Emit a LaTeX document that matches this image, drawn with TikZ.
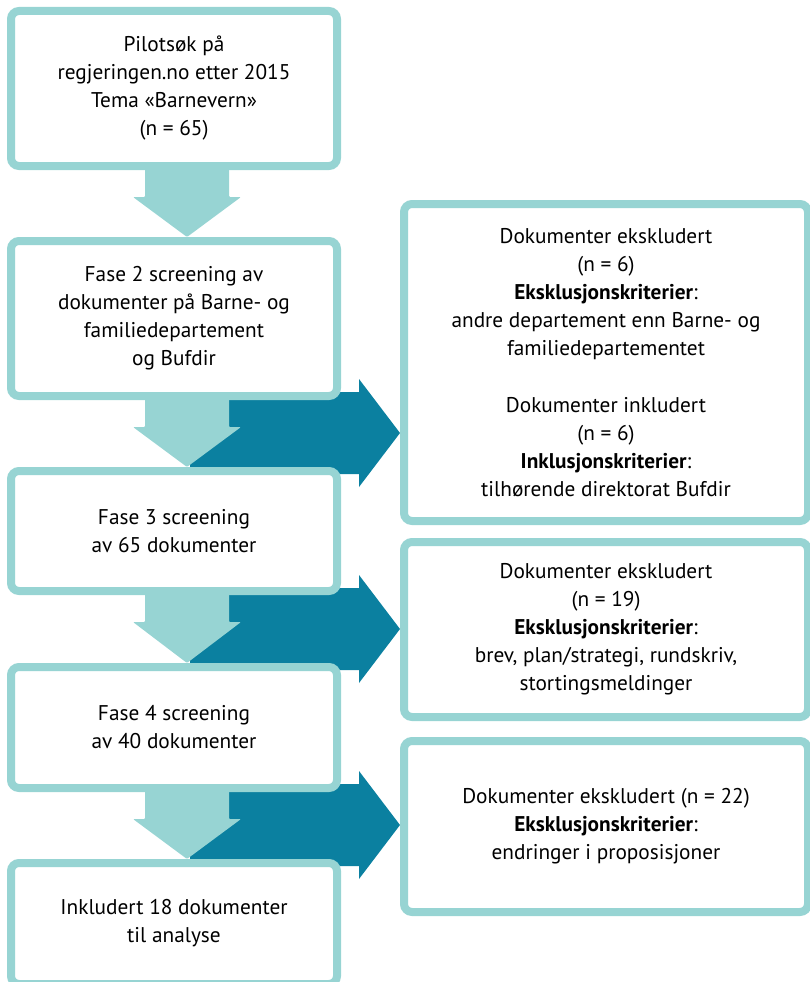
\documentclass[tikz,border=0pt]{standalone}
\usepackage{fontspec}
\setmainfont{PT Sans}
\usetikzlibrary{calc}
\definecolor{lightteal}{RGB}{151,212,211}
\definecolor{darkteal}{RGB}{11,128,160}
\begin{document}
\begin{tikzpicture}[x=1pt,y=-1pt,
  box/.style={draw=lightteal, line width=8pt, fill=white, rounded corners=8pt,
    inner sep=0pt, align=center, font=\fontsize{21.3}{28}\selectfont},
  lbox/.style={box, minimum width=326pt},
  rbox/.style={box, minimum width=404pt},
  lightarrow/.style={fill=lightteal, rounded corners=1pt},
  darkarrow/.style={fill=darkteal}
]
\useasboundingbox (0,0) rectangle (810,982);

% dark arrows (behind everything)
\coordinate (d1) at (190,433);
\coordinate (d2) at (190,629);
\coordinate (d3) at (190,825);

% box outlines placed first so that arrows can refer to them
\path
  node[lbox, minimum height=155pt, draw=none, fill=none] (L1) at (174,88.5) {}
  node[lbox, minimum height=155pt, draw=none, fill=none] (L2) at (174,318.5) {}
  node[lbox, minimum height=120pt, draw=none, fill=none] (L3) at (174,531) {}
  node[lbox, minimum height=121pt, draw=none, fill=none] (L4) at (174,727.5) {}
  node[lbox, minimum height=121pt, draw=none, fill=none] (L5) at (174,923.5) {}
  node[rbox, minimum height=317pt, draw=none, fill=none] (R1) at (606,362.5) {}
  node[rbox, minimum height=175pt, draw=none, fill=none] (R2) at (606,629.5) {}
  node[rbox, minimum height=171pt, draw=none, fill=none] (R3) at (606,826.5) {};

\foreach \d/\r in {d1/R1, d2/R2, d3/R3}{
  \coordinate (t) at (\r.west |- \d);
  \fill[darkarrow] ($(\d)+(0,-41)$) -- ($(t)+(-41,-41)$) -- ($(t)+(-41,-54)$)
    -- (t) -- ($(t)+(-41,54)$) -- ($(t)+(-41,41)$) -- ($(\d)+(0,41)$) -- cycle;
}

% light arrows
\foreach \a/\b in {L1/L2, L2/L3, L3/L4, L4/L5}{
  \coordinate (s) at ($(\a.south)+(13,0)$);
  \coordinate (e) at (s |- \b.north);
  \fill[lightarrow] ($(s)+(-42,-2)$) -- ($(s)+(42,-2)$) -- ($(s)+(42,27)$)
    -- ($(s)+(54,27)$) -- (e) -- ($(s)+(-54,27)$) -- ($(s)+(-42,27)$) -- cycle;
}

% boxes
\node[lbox, minimum height=155pt] (L1) at (174,88.5)
  {Pilotsøk på\\regjeringen.no etter 2015\\Tema «Barnevern»\\(n = 65)};
\node[lbox, minimum height=155pt] (L2) at (174,318.5)
  {Fase 2 screening av\\dokumenter på Barne- og\\familiedepartement\\og Bufdir};
\node[lbox, minimum height=120pt] (L3) at (174,531)
  {Fase 3 screening\\av 65 dokumenter};
\node[lbox, minimum height=121pt] (L4) at (174,727.5)
  {Fase 4 screening\\av 40 dokumenter};
\node[lbox, minimum height=121pt] (L5) at (174,923.5)
  {Inkludert 18 dokumenter\\til analyse};
\node[rbox, minimum height=317pt] (R1) at (606,362.5)
  {Dokumenter ekskludert\\(n = 6)\\\textbf{Eksklusjonskriterier}:\\andre departement enn Barne- og\\familiedepartementet\\[29pt]Dokumenter inkludert\\(n = 6)\\\textbf{Inklusjonskriterier}:\\tilhørende direktorat Bufdir};
\node[rbox, minimum height=175pt] (R2) at (606,629.5)
  {Dokumenter ekskludert\\(n = 19)\\\textbf{Eksklusjonskriterier}:\\brev, plan/strategi, rundskriv,\\stortingsmeldinger};
\node[rbox, minimum height=171pt] (R3) at (606,826.5)
  {Dokumenter ekskludert (n = 22)\\\textbf{Eksklusjonskriterier}:\\endringer i proposisjoner};
\end{tikzpicture}
\end{document}
